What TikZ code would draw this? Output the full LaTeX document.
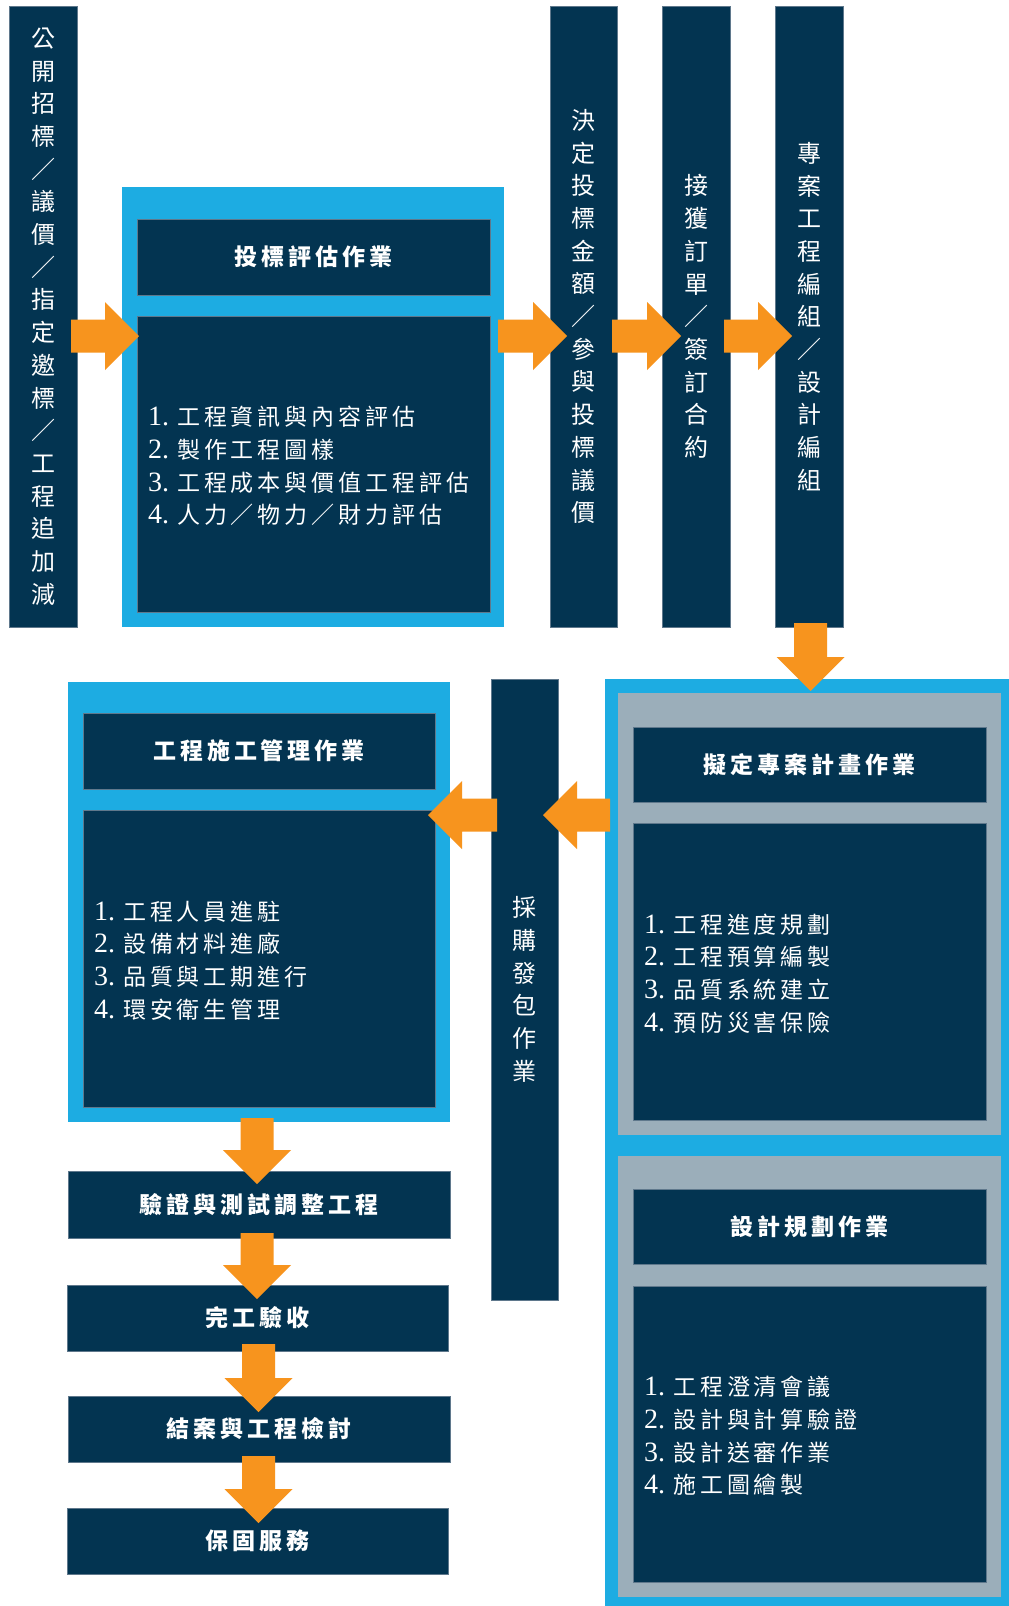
\documentclass[tikz,border=0pt]{standalone}
\usepackage{fontspec}
\setmainfont{Liberation Serif}
\newfontfamily\cjk{Noto Sans CJK TC}
\newfontfamily\cjkl{Noto Sans CJK TC}[LetterSpace=17]
\usetikzlibrary{calc,fit}
\definecolor{navy}{RGB}{3,52,81}
\definecolor{sky}{RGB}{29,172,226}
\definecolor{steel}{RGB}{155,174,186}
\definecolor{orng}{RGB}{247,148,30}
\definecolor{edge}{RGB}{95,120,140}
\newcommand\itm[2]{{\rmfamily\fontsize{28}{32.8}\selectfont #1.}\hspace{8pt}#2}
\newcommand\blockarrow[2]{%
  \path ($(#2)!34pt!(#1)$) coordinate (ab);
  \fill[orng] ($(#1)!16.5pt!90:(#2)$) -- ($(ab)!16.5pt!-90:(#1)$) -- ($(ab)!34pt!-90:(#1)$)
    -- (#2) -- ($(ab)!34pt!90:(#1)$) -- ($(ab)!16.5pt!90:(#1)$) -- ($(#1)!16.5pt!-90:(#2)$) -- cycle;}
\tikzset{
  bluebox/.style={fill=sky, inner sep=0pt, outer sep=0pt},
  graybox/.style={fill=steel, inner sep=0pt, outer sep=0pt},
  navybox/.style={fill=navy, draw=edge, line width=0.4pt, inner sep=0pt, outer sep=0pt},
  vlabel/.style={text=white, inner sep=0pt, font=\cjk\fontsize{24}{32.7}\selectfont, align=center},
  title/.style={text=white, inner sep=0pt, font=\cjkl\bfseries\fontsize{23}{28}\selectfont},
  listtext/.style={text=white, align=left, inner sep=0pt, anchor=west, font=\cjkl\fontsize{23}{32.8}\selectfont}
}
\begin{document}
\begin{tikzpicture}[x=1pt,y=-1pt]
\useasboundingbox (0,0) rectangle (1009,1606);
\fill[white] (0,0) rectangle (1009,1606);
% ---- top row ----
\node[navybox, fit={(9,6)(77,627)}] (lb) {};
\node[vlabel] (lbt) at (lb.center) {公\\開\\招\\標\\／\\議\\價\\／\\指\\定\\邀\\標\\／\\工\\程\\追\\加\\減};
\node[bluebox, fit={(122,187)(504,627)}] (b1) {};
\node[navybox, fit={(137,219)(490,295)}] (h1) {};
\node[title] (h1t) at (h1.center) {投標評估作業};
\node[navybox, fit={(137,316)(490,612)}] (d1) {};
\node[listtext] (t1) at ($(d1.west)+(11,2)$) {\itm{1}{工程資訊與內容評估}\\\itm{2}{製作工程圖樣}\\\itm{3}{工程成本與價值工程評估}\\\itm{4}{人力／物力／財力評估}};
\node[navybox, fit={(550,6)(617,627)}] (c2) {};
\node[vlabel] (c2t) at (c2.center) {決\\定\\投\\標\\金\\額\\／\\參\\與\\投\\標\\議\\價};
\node[navybox, fit={(662,6)(730,627)}] (c3) {};
\node[vlabel] (c3t) at (c3.center) {接\\獲\\訂\\單\\／\\簽\\訂\\合\\約};
\node[navybox, fit={(775,6)(843,627)}] (c4) {};
\node[vlabel] (c4t) at (c4.center) {專\\案\\工\\程\\編\\組\\／\\設\\計\\編\\組};
% ---- right column ----
\node[bluebox, fit={(605,679)(1009,1606)}] (rb) {};
\node[graybox, fit={(618,693)(1001,1135)}] (g1) {};
\node[navybox, fit={(633,727)(986,802)}] (h3) {};
\node[title] (h3t) at (h3.center) {擬定專案計畫作業};
\node[navybox, fit={(633,823)(986,1120)}] (d3) {};
\node[listtext] (t3) at ($(d3.west)+(11,2)$) {\itm{1}{工程進度規劃}\\\itm{2}{工程預算編製}\\\itm{3}{品質系統建立}\\\itm{4}{預防災害保險}};
\node[graybox, fit={(618,1156)(1001,1597)}] (g2) {};
\node[navybox, fit={(633,1189)(986,1264)}] (h4) {};
\node[title] (h4t) at (h4.center) {設計規劃作業};
\node[navybox, fit={(633,1286)(986,1582)}] (d4) {};
\node[listtext] (t4) at ($(d4.west)+(11,2)$) {\itm{1}{工程澄清會議}\\\itm{2}{設計與計算驗證}\\\itm{3}{設計送審作業}\\\itm{4}{施工圖繪製}};
% ---- middle bar ----
\node[navybox, fit={(491,679)(558,1300)}] (pb) {};
\node[vlabel] (pbt) at (pb.center) {採\\購\\發\\包\\作\\業};
% ---- left column ----
\node[bluebox, fit={(68,682)(450,1122)}] (b2) {};
\node[navybox, fit={(83,713)(435,789)}] (h2) {};
\node[title] (h2t) at (h2.center) {工程施工管理作業};
\node[navybox, fit={(83,810)(435,1107)}] (d2) {};
\node[listtext] (t2) at ($(d2.west)+(11,2)$) {\itm{1}{工程人員進駐}\\\itm{2}{設備材料進廠}\\\itm{3}{品質與工期進行}\\\itm{4}{環安衛生管理}};
\node[navybox, fit={(68,1171)(450,1238)}] (v1) {};
\node[title] (v1t) at (v1.center) {驗證與測試調整工程};
\node[navybox, fit={(67,1285)(448,1351)}] (v2) {};
\node[title] (v2t) at (v2.center) {完工驗收};
\node[navybox, fit={(68,1396)(450,1462)}] (v3) {};
\node[title] (v3t) at (v3.center) {結案與工程檢討};
\node[navybox, fit={(67,1508)(448,1574)}] (v4) {};
\node[title] (v4t) at (v4.center) {保固服務};
% ---- arrows ----
\coordinate (yA) at (0,336);
\coordinate (yB) at (0,815);
\coordinate (s1) at ($(lb.east |- yA)+(-6,0)$);  \coordinate (e1) at ($(b1.west |- yA)+(17,0)$);
\coordinate (s2) at ($(b1.east |- yA)+(-6,0)$);  \coordinate (e2) at ($(c2.west |- yA)+(17,0)$);
\coordinate (s3) at ($(c2.east |- yA)+(-5,0)$);  \coordinate (e3) at ($(c3.west |- yA)+(19,0)$);
\coordinate (s4) at ($(c3.east |- yA)+(-6,0)$);  \coordinate (e4) at ($(c4.west |- yA)+(17,0)$);
\coordinate (s5) at ($(c4.south)+(1.5,-4)$);     \coordinate (e5) at ($(c4.south |- rb.north)+(1.5,12)$);
\coordinate (s6) at ($(rb.west |- yB)+(5,0)$);   \coordinate (e6) at ($(pb.east |- yB)+(-15,0)$);
\coordinate (s7) at ($(pb.west |- yB)+(6,0)$);   \coordinate (e7) at ($(b2.east |- yB)+(-22,0)$);
\coordinate (s8) at ($(b2.south)+(-2,-4)$);      \coordinate (e8) at ($(v1.north)+(-2,13)$);
\coordinate (s9) at ($(v1.south)+(-2,-5)$);      \coordinate (e9) at ($(v2.north)+(-0.5,14)$);
\coordinate (s10) at ($(v2.south)+(1,-7)$);      \coordinate (e10) at ($(v3.north)+(-0.5,16)$);
\coordinate (s11) at ($(v3.south)+(-0.5,-6)$);   \coordinate (e11) at ($(v4.north)+(1,15)$);
\blockarrow{s1}{e1}
\blockarrow{s2}{e2}
\blockarrow{s3}{e3}
\blockarrow{s4}{e4}
\blockarrow{s5}{e5}
\blockarrow{s6}{e6}
\blockarrow{s7}{e7}
\blockarrow{s8}{e8}
\blockarrow{s9}{e9}
\blockarrow{s10}{e10}
\blockarrow{s11}{e11}
\end{tikzpicture}
\end{document}
